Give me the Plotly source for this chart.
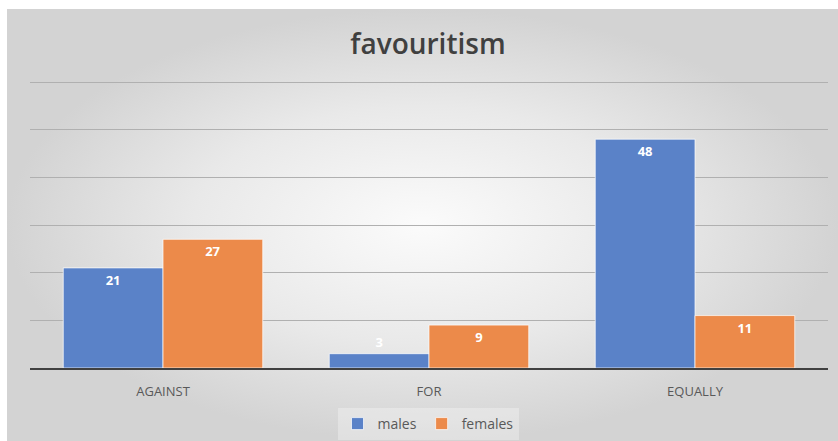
import plotly.graph_objects as go

categories = ["AGAINST", "FOR", "EQUALLY"]
males = [21, 3, 48]
females = [27, 9, 11]
title_text = "favouritism"

BLUE = "#5a82c8"
ORANGE = "#ec8a4a"

fig = go.Figure()

# background vignette (decoration)
fig.add_trace(go.Scatter(
    x=[0, 1, 1, 0, 0], y=[0, 0, 1, 1, 0], mode="lines", fill="toself",
    line=dict(width=0, color="rgba(0,0,0,0)"),
    fillgradient=dict(type="radial", colorscale=[[0, "#fbfbfb"], [0.55, "#e9e9e9"], [1, "#d3d3d3"]]),
    hoverinfo="skip", showlegend=False, xaxis="x", yaxis="y",
))

for name, vals, col in [("males", males, BLUE), ("females", females, ORANGE)]:
    fig.add_trace(go.Bar(
        x=categories, y=vals, name=name, xaxis="x2", yaxis="y2",
        marker=dict(color=col, line=dict(color="rgba(255,255,255,0.7)", width=1)),
        text=[str(v) for v in vals],
        textposition=["outside" if v < 5 else "inside" for v in vals],
        insidetextanchor="end",
        constraintext="none", cliponaxis=False, textangle=0,
        textfont=dict(color="white", size=13, family="Open Sans", weight="bold"),
    ))

W, H = 838, 441
YMAX = 60.3
top_px = 368 - (368 - 82) * YMAX / 60
fig.update_layout(
    width=W, height=H, autosize=False,
    margin=dict(l=0, r=0, t=0, b=0),
    paper_bgcolor="white", plot_bgcolor="rgba(0,0,0,0)",
    barmode="group", bargap=0.25, bargroupgap=0,
    title=dict(text=title_text, x=428 / W, xanchor="center", y=1 - 44 / H, yanchor="middle",
               font=dict(size=28, color="#404040", family="Open Sans", weight=600)),
    xaxis=dict(domain=[7 / W, 1], range=[0, 1], visible=False, fixedrange=True),
    yaxis=dict(domain=[0, 1 - 9 / H], range=[0, 1], visible=False, fixedrange=True),
    xaxis2=dict(domain=[30 / W, 828 / W], anchor="y2", showgrid=False, showline=True,
                linecolor="#404040", linewidth=2, ticks="", ticklabelstandoff=10,
                tickfont=dict(size=13, color="#595959", family="Open Sans")),
    yaxis2=dict(domain=[(H - 368) / H, (H - top_px) / H], anchor="x2", range=[0, YMAX],
                tick0=0, dtick=10,
                showticklabels=False, showgrid=True, gridcolor="#b0b0b0", gridwidth=1,
                zeroline=False),
    legend=dict(orientation="h", x=428 / W, xanchor="center", y=1 - 424 / H, yanchor="middle",
                bgcolor="rgba(255,255,255,0.3)", font=dict(size=14, color="#595959", family="Open Sans"),
                itemwidth=30, traceorder="normal"),
    font=dict(family="Open Sans"),
)

fig.write_html("out.html")
